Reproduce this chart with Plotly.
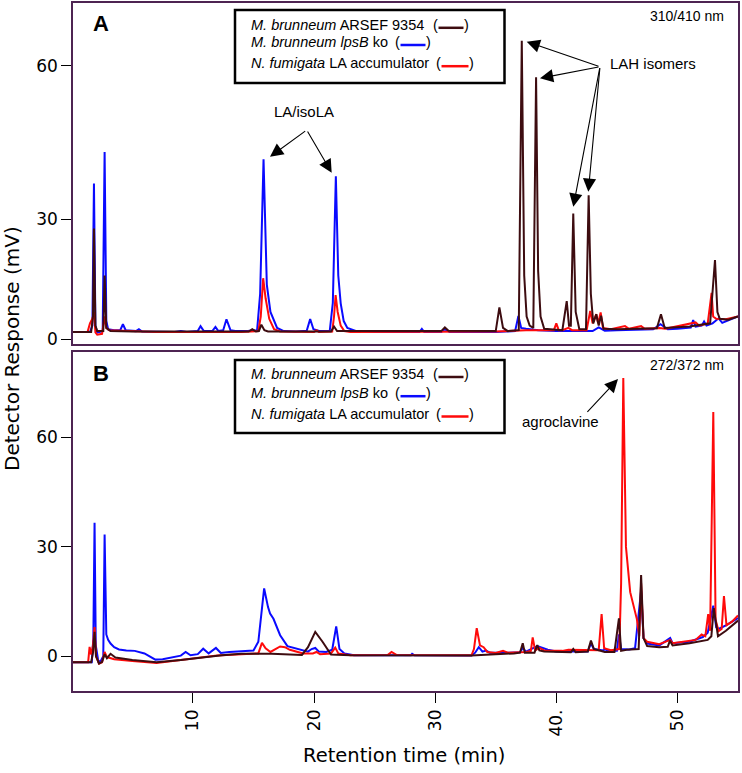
import plotly.graph_objects as go

# ---------------- data (retention time in min, response in axis units) ----------------
# Panel A (310/410 nm)
a_blue_t = [0.1, 1.5, 1.7, 1.83, 1.95, 2.1, 2.55, 2.71, 2.85, 3.0, 3.5, 4.0, 4.22, 4.45, 5.3, 5.54, 5.8, 7, 8.5, 9, 9.5,
            10.4, 10.63, 10.9, 11.6, 11.86, 12.1, 12.5, 12.77, 13.1, 13.5, 14.5, 15.3, 15.55, 15.83, 16.1, 16.4, 16.95,
            17.5, 18.5, 19.4, 19.68, 19.95, 20.5, 21.3, 21.55, 21.8, 22.0, 22.2, 22.45, 22.75, 23.5, 25, 28.7, 28.9,
            29.1, 30.5, 30.8, 31.2, 35, 36.6, 36.87, 37.1, 37.5, 38.5, 40, 43, 43.5, 44, 45, 48, 48.6, 49.2, 50, 51.1,
            51.3, 51.5, 52.0, 52.2, 52.4, 52.9, 53.4, 53.7, 54.3, 55]
a_blue_v = [1.6, 1.6, 3, 34.2, 3, 1.5, 1.8, 41.1, 4, 2.2, 2.0, 2.0, 3.3, 2.0, 1.8, 2.2, 1.7, 1.6, 1.6, 1.8, 1.6,
            1.8, 2.9, 1.8, 1.8, 2.7, 1.8, 2.0, 4.4, 2.0, 1.8, 1.8, 2.0, 10, 39.5, 12, 6.0, 2.5,
            1.8, 1.7, 1.9, 4.45, 2.2, 1.8, 1.9, 8, 35.8, 14, 7.9, 4, 2.5, 1.8, 1.6, 1.6, 2.3,
            1.6, 1.6, 2.2, 1.6, 1.6, 1.8, 5.1, 2.5, 2.3, 2.0, 1.8, 1.8, 2.6, 1.9, 2.0, 2.2, 3.3, 2.2, 2.3, 2.6,
            4.2, 2.8, 3.0, 3.9, 3.0, 3.5, 4.6, 3.6, 4.3, 5.0]

a_red_t = [0.1, 1.3, 1.5, 1.7, 1.83, 1.95, 2.1, 2.5, 2.71, 2.85, 3.1, 4, 5, 7, 14, 15.4, 15.6, 15.8, 16.0, 16.3, 16.7,
           17.2, 20, 20.2, 20.4, 21.5, 21.65, 21.78, 21.95, 22.2, 22.5, 23, 35, 36.8, 37.5, 39.8, 40.0, 40.2, 40.5,
           41.0, 41.3, 42.5, 42.8, 43.0, 43.3, 43.45, 43.66, 43.85, 44.5, 45.67, 46, 47.0, 47.3, 48.5, 49, 51.5, 51.8,
           52.5, 52.82, 52.95, 53.2, 54, 55]
a_red_v = [1.6, 1.6, 3.5, 4.5, 6, 1.5, 1.0, 1.2, 5.0, 2.5, 2.0, 1.9, 1.7, 1.6, 1.6, 1.8, 5, 13.4, 9, 4.5, 2.2,
           1.7, 1.6, 2.0, 1.6, 1.7, 5, 9.7, 6, 3.0, 1.8, 1.6, 1.7, 2.0, 2.0, 2.0, 3.5, 2.0, 2.0,
           2.5, 2.0, 2.0, 6.2, 3.5, 5.5, 3.5, 5.9, 2.5, 2.2, 2.9, 2.3, 2.9, 2.3, 2.5, 2.3, 3.7, 3.0,
           3.5, 10.2, 5, 4.5, 4.4, 5.0]

a_dark_t = [0.1, 1.6, 1.75, 1.83, 1.95, 2.1, 2.6, 2.71, 2.85, 3.2, 5, 14.6, 14.9, 15.2, 15.45, 15.65, 15.9, 16.2,
            21.4, 21.65, 21.9, 30.5, 30.8, 31.1, 35, 35.3, 35.6, 36.0, 36.9, 37.15, 37.35, 37.55, 37.8, 38.1, 38.33,
            38.5, 38.7, 39.0, 40.5, 40.86, 41.05, 41.2, 41.4, 41.6, 41.9, 42.45, 42.67, 42.85, 43.05, 43.3, 43.5,
            43.7, 43.9, 45, 48.3, 48.64, 48.95, 51, 52.7, 53.1, 53.3, 53.5, 54.2, 55]
a_dark_v = [1.6, 1.6, 5, 24.3, 3, 1.8, 1.8, 14.0, 2.5, 1.8, 1.7, 1.7, 2.2, 1.7, 1.8, 3.2, 2.0, 1.7,
            1.7, 2.8, 1.8, 1.8, 2.6, 1.9, 1.8, 7.0, 2.5, 1.8, 2.0, 65.5, 14, 5, 3, 2.5, 57.5,
            15, 5, 2.3, 2.0, 8.4, 3.0, 3, 27.6, 6, 2.2, 2.2, 31.6, 10, 3.5, 5.5, 3,
            5.2, 2.3, 2.2, 2.4, 5.5, 2.5, 2.8, 3.5, 17.4, 6, 4.5, 4.3, 5.0]

# Panel B (272/372 nm)
b_blue_t = [0.1, 1.65, 1.78, 1.88, 1.98, 2.2, 2.4, 2.6, 2.71, 2.85, 3.0, 3.2, 3.5, 3.9, 4.5, 5.2, 6, 6.9, 7.5, 8.3,
            9.0, 9.4, 9.8, 10.4, 10.85, 11.3, 11.9, 12.3, 13, 14, 15.0, 15.4, 15.88, 16.2, 16.37, 16.65, 17.2, 17.8,
            18.9, 19.5, 19.8, 20.1, 20.4, 21.0, 21.5, 21.83, 22.1, 22.5, 23.3, 28, 28.1, 28.3, 33, 33.3, 33.6, 33.9,
            34.2, 34.5, 36, 37.0, 37.23, 37.5, 38.43, 38.8, 39.3, 40, 42.6, 42.86, 43.1, 43.9, 44.0, 44.2, 45.0,
            45.17, 45.35, 46, 46.5, 47.0, 47.2, 47.5, 48.5, 49.4, 49.6, 51, 52.1, 52.5, 52.96, 53.2, 53.4, 54, 55]
b_blue_v = [-1.6, -1.6, 5, 36.6, 3, -1.5, -1.2, 0, 33.4, 6, 4.5, 3.5, 2.5, 1.9, 1.6, 1.5, 0.8, -0.9, -0.8, -0.2,
            0.2, 1.2, 0.3, 0.6, 2.1, 0.8, 2.3, 0.9, 1.2, 1.4, 1.6, 4, 18.6, 13.5, 11.7, 10.3, 5.8, 2.8,
            1.8, 1.3, 2.0, 2.3, 1.3, 1.2, 1.8, 8.2, 2.0, 0.8, 0.3, 0.3, 0.7, 0.3, 0.2, 1.0, 2.5, 1.3,
            1.6, 1.0, 1.0, 1.1, 2.3, 1.3, 2.8, 2.4, 1.8, 1.3, 1.3, 3.6, 2.0, 1.6, 2.1, 1.5, 1.5,
            6, 2.0, 1.9, 2.2, 18, 5, 3.5, 3.0, 5.0, 3.6, 4.0, 5.3, 6.5, 13.9, 8, 7.5, 8.5, 10.5]

b_red_t = [0.1, 1.35, 1.47, 1.6, 1.75, 1.88, 2.0, 2.25, 2.5, 2.71, 2.9, 3.5, 5, 7, 9, 12, 14, 15.4, 15.7, 16.0, 16.4,
           16.8, 17.2, 17.6, 18.0, 19.1, 19.9, 20.2, 20.5, 21.4, 21.75, 22.0, 23, 26.1, 26.4, 26.8, 33, 33.2, 33.43,
           33.7, 34.0, 34.3, 35, 35.6, 36, 37.5, 37.9, 38.05, 38.25, 38.6, 39, 40.5, 41.0, 43.5, 43.74, 43.95, 44.5,
           45.2, 45.35, 45.53, 45.75, 46.1, 46.65, 46.85, 47.0, 47.2, 47.5, 48.5, 49.4, 49.6, 51, 51.5, 52.0, 52.3,
           52.54, 52.7, 52.96, 53.15, 53.4, 53.65, 53.84, 54.05, 54.5, 55]
b_red_v = [-1.6, -1.6, 2.6, 0.5, 3, 8.0, 0, -2.0, -1.6, 1.2, -0.2, -0.8, -1.3, -1.8, -1.0, 0.2, 0.6, 0.8, 3.7, 2.2, 1.2,
           2.0, 2.7, 2.5, 1.8, 0.8, 0.8, 1.2, 0.6, 0.8, 2.4, 0.8, 0.3, 0.4, 1.2, 0.4, 0.3, 2, 7.7,
           3, 2.5, 1.2, 0.9, 1.5, 1.0, 1.2, 1.5, 5.2, 1.6, 2.3, 1.6, 1.5, 1.8, 1.7, 11.6, 2.2, 1.7,
           2.0, 20, 76.3, 30, 17.6, 10.2, 5.5, 20, 5, 4.0, 3.3, 4.5, 3.6, 4.2, 4.5, 6.0, 5.5,
           11.6, 7, 67.0, 10, 6.9, 7.5, 16.5, 8.5, 9.5, 11.2]

b_dark_t = [0.1, 1.6, 1.75, 1.88, 2.0, 2.25, 2.5, 2.71, 2.9, 3.2, 3.6, 5, 7, 9, 12.4, 14, 16.5, 19.0, 19.5, 20.1,
            20.7, 21.4, 23, 30, 33, 36.5, 37.0, 37.23, 37.4, 38.2, 38.43, 38.6, 39, 41.2, 41.4, 41.6, 42.6, 42.86,
            43.1, 44, 44.8, 45.17, 45.35, 45.8, 46.5, 46.8, 47.0, 47.2, 47.5, 48.5, 49.2, 49.38, 49.6, 51, 52.5,
            52.8, 53.0, 53.2, 53.35, 54, 55]
b_dark_v = [-1.6, -1.6, 1, 6.7, 0, -2.0, -1.5, 0.6, -0.5, 0.7, -0.3, -1.0, -1.6, -1.0, 0.3, 0.7, 0.7, 0.4, 2.5, 6.7,
            4.0, 0.5, 0.3, 0.1, 0.2, 0.8, 1.0, 3.6, 1.0, 1.0, 3.1, 1.6, 1.3, 1.1, 2.0, 1.1, 1.3, 4.3,
            2.0, 1.2, 1.2, 10.4, 1.5, 1.8, 1.9, 2, 22.3, 5, 2.8, 2.5, 2.6, 4.3, 3.0, 3.6, 4.5,
            5.5, 13.2, 8, 5.5, 7.0, 9.8]

x_tick_vals = [10, 20, 30, 40, 50]
x_tick_text = ["10", "20", "30", "40.", "50"]
ya_tick_vals = [0, 26.4, 60]
ya_tick_text = ["0", "30", "60"]
yb_tick_vals = [0, 30, 60]
yb_tick_text = ["0", "30", "60"]

series_names = ["M. brunneum ARSEF 9354", "M. brunneum lpsB ko", "N. fumigata LA accumulator"]
legend_labels = ["<i>M. brunneum</i> ARSEF 9354", "<i>M. brunneum lpsB</i> ko",
                 "<i>N. fumigata</i> LA accumulator"]

# ---------------- styling ----------------
W, H = 742, 773
ML, MR, MT, MB = 73, 4, 3, 82
PW, PH = W - ML - MR, H - MT - MB
DARK, BLUE, RED = "#3d0c10", "#0a0aff", "#ff0a0a"
FRAME = "#4e2452"
TXT_DY = 2.5  # small upward nudge for annotation text boxes


def px_to_paper(px, py):
    return (px - ML) / PW, (H - MB - py) / PH


fig = go.Figure()

for (t, v, c, n, xa, ya) in [
    (a_blue_t, a_blue_v, BLUE, series_names[1], "x", "y"),
    (a_red_t, a_red_v, RED, series_names[2], "x", "y"),
    (a_dark_t, a_dark_v, DARK, series_names[0], "x", "y"),
    (b_blue_t, b_blue_v, BLUE, series_names[1], "x2", "y2"),
    (b_red_t, b_red_v, RED, series_names[2], "x2", "y2"),
    (b_dark_t, b_dark_v, DARK, series_names[0], "x2", "y2"),
]:
    fig.add_trace(go.Scatter(x=t, y=v, mode="lines", name=n, xaxis=xa, yaxis=ya,
                             line=dict(color=c, width=2), showlegend=False))

_, a_bot = px_to_paper(0, 344)
_, b_top = px_to_paper(0, 351.7)

AXF = "DejaVu Sans"
tickfont = dict(family=AXF, size=17, color="black")
common_y = dict(showgrid=False, zeroline=False, showline=True, mirror=True, linecolor=FRAME, linewidth=1.5,
                ticks="outside", ticklen=10, tickwidth=1.3, tickcolor="black", tickfont=tickfont)
fig.update_layout(
    width=W, height=H, margin=dict(l=ML, r=MR, t=MT, b=MB, autoexpand=False),
    paper_bgcolor="white", plot_bgcolor="white",
    xaxis=dict(domain=[0, 1], anchor="y", range=[0.1, 55], showgrid=False, zeroline=False, showline=True,
               mirror=True, linecolor=FRAME, linewidth=1.5, showticklabels=False, ticks=""),
    yaxis=dict(domain=[a_bot, 1], anchor="x", range=[-1.03, 73.8], tickvals=ya_tick_vals, ticktext=ya_tick_text,
               **common_y),
    xaxis2=dict(domain=[0, 1], anchor="y2", range=[0.1, 55], showgrid=False, zeroline=False, showline=True,
                mirror=True, linecolor=FRAME, linewidth=1.5, ticks="outside", ticklen=10, tickwidth=1.3,
                tickcolor="black", tickvals=x_tick_vals, ticktext=x_tick_text, tickangle=-90, tickfont=tickfont),
    yaxis2=dict(domain=[0, b_top], anchor="x2", range=[-9.5, 83.5], tickvals=yb_tick_vals, ticktext=yb_tick_text,
                **common_y),
)

ann = []
shapes = []
LF = "Liberation Sans, Arial, sans-serif"


def text_at(px, py, text, size=15, xanchor="center", bold=False, family=LF):
    x, y = px_to_paper(px, py - TXT_DY)
    if bold:
        text = "<b>" + text + "</b>"
    ann.append(dict(xref="paper", yref="paper", x=x, y=y, text=text, showarrow=False, xanchor=xanchor,
                    yanchor="middle", font=dict(family=family, size=size, color="black")))


def arrow(tail, tip):
    x, y = px_to_paper(*tip)
    ann.append(dict(xref="paper", yref="paper", x=x, y=y, text="", showarrow=True,
                    ax=tail[0] - tip[0], ay=tail[1] - tip[1], arrowhead=2, arrowsize=2.4, arrowwidth=1.1,
                    arrowcolor="black", standoff=0, startstandoff=0))


# panel letters and wavelengths
text_at(100.5, 26, "A", size=22, bold=True)
text_at(100.5, 376, "B", size=22, bold=True)
text_at(726, 19, "310/410 nm", size=14, xanchor="right")
text_at(726, 367, "272/372 nm", size=14, xanchor="right")

# legend boxes: label text, "(", coloured line segment, ")"
dash_x = [(438.5, 463.5), (400.5, 425.5), (441.5, 468.5)]
dash_c = [DARK, BLUE, RED]
for (top, bot, ys) in [(10, 83, [27.3, 44.5, 65.7]), (360, 433, [376.5, 395.7, 416])]:
    x0, y0 = px_to_paper(235, bot)
    x1, y1 = px_to_paper(504.5, top)
    shapes.append(dict(type="rect", xref="paper", yref="paper", x0=x0, y0=y0, x1=x1, y1=y1,
                       line=dict(color="black", width=2.5), fillcolor="white", layer="above"))
    for yy, s, (dx0, dx1), c in zip(ys, legend_labels, dash_x, dash_c):
        text_at(249, yy, s, size=14.5, xanchor="left")
        text_at(dx0 + 1.5, yy, "(", size=14.5, xanchor="right")
        text_at(dx1 - 1.5, yy, ")", size=14.5, xanchor="left")
        lx0, ly = px_to_paper(dx0, yy + 0.5)
        lx1, _ = px_to_paper(dx1, yy + 0.5)
        shapes.append(dict(type="line", xref="paper", yref="paper", x0=lx0, x1=lx1, y0=ly, y1=ly,
                           line=dict(color=c, width=2.5), layer="above"))

# peak labels and arrows
text_at(303.5, 114, "LA/isoLA", size=15)
arrow((306.7, 130), (270, 156.7))
arrow((306.7, 130), (331.7, 172.7))

text_at(653, 66, "LAH isomers", size=15)
for tip in [(526.7, 41.7), (540, 78.3), (573.3, 206.7), (588.3, 191.7)]:
    arrow((600, 66.7), tip)

text_at(560, 424.3, "agroclavine", size=15)
arrow((586, 413.3), (618, 379))

# axis titles
ann.append(dict(xref="paper", yref="paper", x=px_to_paper(12, 0)[0], y=px_to_paper(0, 349)[1],
                text="Detector Response (mV)", textangle=-90, showarrow=False, xanchor="center",
                yanchor="middle", font=dict(family=AXF, size=20, color="black")))
ann.append(dict(xref="paper", yref="paper", x=px_to_paper(404, 0)[0], y=px_to_paper(0, 755)[1],
                text="Retention time (min)", showarrow=False, xanchor="center", yanchor="middle",
                font=dict(family=AXF, size=19.5, color="black")))

fig.update_layout(annotations=ann, shapes=shapes)
fig.write_html("out.html", config={"displayModeBar": False},
               post_script="document.body.style.margin='0px';document.body.style.overflow='hidden';")
